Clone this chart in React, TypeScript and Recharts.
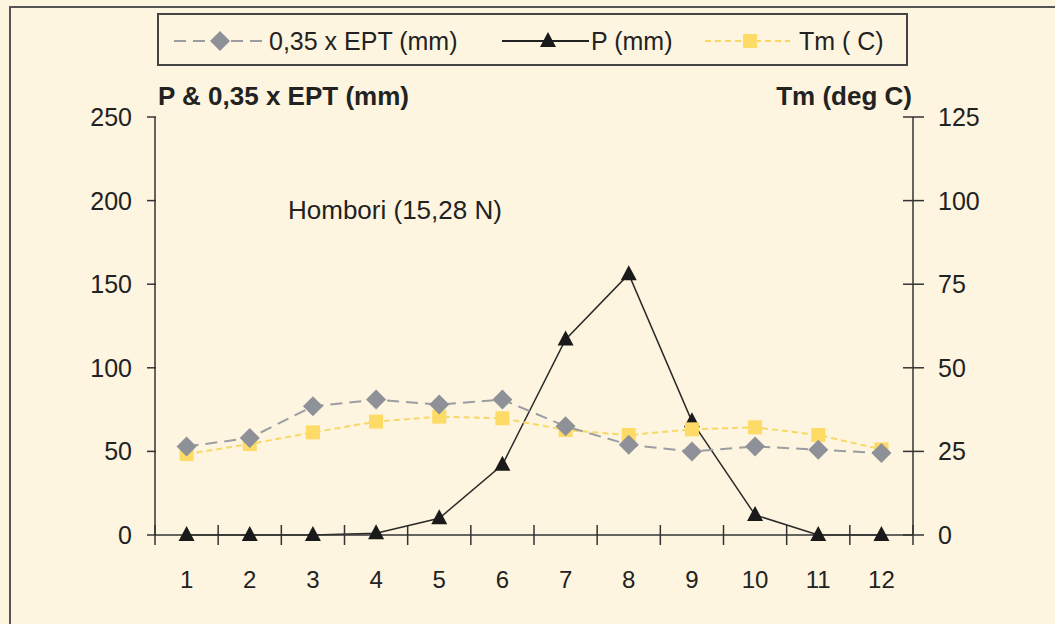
import React from "react";
import { LineChart, Line, XAxis, YAxis, Legend } from "recharts";

const months = [1, 2, 3, 4, 5, 6, 7, 8, 9, 10, 11, 12];
const eptValues = [53, 58, 77, 81, 78, 81, 65, 54, 50, 53, 51, 49];
const pValues = [0, 0, 0, 1, 10, 42, 117, 156, 68, 12, 0, 0];
const tmValues = [24.2, 27.2, 30.7, 33.9, 35.4, 34.9, 31.4, 29.9, 31.6, 32.2, 29.9, 25.6];

const leftTicks = [0, 50, 100, 150, 200, 250];
const rightTicks = [0, 25, 50, 75, 100, 125];
// month labels sit on the integers, the tick marks sit between months
const xTicks = [0.5, 1, 1.5, 2, 2.5, 3, 3.5, 4, 4.5, 5, 5.5, 6, 6.5, 7, 7.5, 8, 8.5, 9, 9.5, 10, 10.5, 11, 11.5, 12, 12.5];

const data = months.map((m, i) => ({
  month: m,
  ept: eptValues[i],
  p: pValues[i],
  tm: tmValues[i],
}));

const FONT = "'Liberation Sans', Arial, Helvetica, sans-serif";
const TEXT = "#222";
const AXIS = "#333";
const BG = "#fdf5df";
const GREY_LINE = "#9b9da2";
const GREY_MARK = "#8f9198";
const YELLOW_LINE = "#f8d865";
const YELLOW_MARK = "#fddb66";

const Diamond = ({ cx, cy }: any) =>
  cx == null || cy == null ? null : (
    <polygon points={`${cx},${cy - 10} ${cx + 10},${cy} ${cx},${cy + 10} ${cx - 10},${cy}`} fill={GREY_MARK} />
  );

const Triangle = ({ cx, cy }: any) =>
  cx == null || cy == null ? null : (
    <polygon points={`${cx},${cy - 9} ${cx + 8},${cy + 6} ${cx - 8},${cy + 6}`} fill="#1a1a1a" />
  );

const Square = ({ cx, cy }: any) =>
  cx == null || cy == null ? null : <rect x={cx - 7} y={cy - 7} width={14} height={14} fill={YELLOW_MARK} />;

const XTick = ({ x, y, payload }: any) => {
  const v = payload.value;
  if (!Number.isInteger(v)) {
    return <line x1={x} x2={x} y1={y - 10} y2={y + 10} stroke={AXIS} strokeWidth={1.5} />;
  }
  return (
    <text x={x} y={y + 53} textAnchor="middle" fontSize={24} fill={TEXT} fontFamily={FONT}>
      {v}
    </text>
  );
};

const LeftTick = ({ x, y, payload }: any) => (
  <g>
    <line x1={x - 8} x2={x + 1} y1={y} y2={y} stroke={AXIS} strokeWidth={1.5} />
    <text x={x - 23} y={y + 9} textAnchor="end" fontSize={25} fill={TEXT} fontFamily={FONT}>
      {payload.value}
    </text>
  </g>
);

const RightTick = ({ x, y, payload }: any) => (
  <g>
    <line x1={x - 10} x2={x + 11} y1={y} y2={y} stroke={AXIS} strokeWidth={1.5} />
    <text x={x + 25} y={y + 9} textAnchor="start" fontSize={25} fill={TEXT} fontFamily={FONT}>
      {payload.value}
    </text>
  </g>
);

const legendOrder = ["ept", "p", "tm"];
const legendSlots = [
  { x1: 15, x2: 105, mark: 61, text: 110 },
  { x1: 343, x2: 430, mark: 389, text: 432 },
  { x1: 546, x2: 631, mark: 591, text: 640 },
];

function LegendBox({ payload }: any) {
  const items = legendOrder.map((k) => (payload || []).find((p: any) => p.dataKey === k)).filter(Boolean);
  return (
    <div style={{ width: 751, height: 53, border: "2px solid #444", boxSizing: "border-box" }}>
      <svg width={747} height={49}>
        {items.map((item: any, i: number) => {
          const s = legendSlots[i];
          const cy = 26;
          const key = item.dataKey;
          const stroke = key === "ept" ? GREY_LINE : key === "p" ? "#222" : YELLOW_LINE;
          const dash = key === "ept" ? "12 7" : key === "tm" ? "6 4" : undefined;
          return (
            <g key={key}>
              <line x1={s.x1} x2={s.x2} y1={cy} y2={cy} stroke={stroke} strokeWidth={2} strokeDasharray={dash} />
              {key === "ept" && <Diamond cx={s.mark} cy={cy} />}
              {key === "p" && <Triangle cx={s.mark} cy={cy} />}
              {key === "tm" && <Square cx={s.mark} cy={cy} />}
              <text x={s.text} y={cy + 9} fontSize={25} fill={TEXT} fontFamily={FONT}>
                {item.value}
              </text>
            </g>
          );
        })}
      </svg>
    </div>
  );
}

export default function App() {
  return (
    <div style={{ position: "absolute", left: 0, top: 0, width: 1055, height: 624, background: BG, overflow: "hidden" }}>
      <div
        style={{
          position: "absolute",
          left: 9,
          top: 6,
          width: 1200,
          height: 800,
          borderLeft: "2px solid #555",
          borderTop: "2px solid #555",
        }}
      />
      <div style={{ position: "absolute", left: 0, top: 0 }}>
        <LineChart width={1055} height={624} data={data} margin={{ top: 117, right: 62, bottom: 19, left: 75 }}>
          <XAxis
            dataKey="month"
            type="number"
            domain={[0.5, 12.5]}
            ticks={xTicks}
            interval={0}
            tick={<XTick />}
            tickLine={false}
            tickSize={0}
            tickMargin={0}
            height={70}
            axisLine={{ stroke: AXIS, strokeWidth: 1.5 }}
          />
          <YAxis
            yAxisId="left"
            orientation="left"
            domain={[0, 250]}
            ticks={leftTicks}
            interval={0}
            width={80}
            tick={<LeftTick />}
            tickLine={false}
            tickSize={0}
            tickMargin={0}
            axisLine={{ stroke: AXIS, strokeWidth: 1.5 }}
          />
          <YAxis
            yAxisId="right"
            orientation="right"
            domain={[0, 125]}
            ticks={rightTicks}
            interval={0}
            width={80}
            tick={<RightTick />}
            tickLine={false}
            tickSize={0}
            tickMargin={0}
            axisLine={{ stroke: AXIS, strokeWidth: 1.5 }}
          />
          <Legend
            layout="horizontal"
            verticalAlign="middle"
            align="center"
            content={<LegendBox />}
            wrapperStyle={{ left: 157, top: 13, width: 751, height: 53 }}
          />
          <Line
            yAxisId="left"
            dataKey="p"
            name="P (mm)"
            stroke="#2a2a2a"
            strokeWidth={1.5}
            dot={<Triangle />}
            activeDot={false}
            isAnimationActive={false}
          />
          <Line
            yAxisId="right"
            dataKey="tm"
            name="Tm ( C)"
            stroke={YELLOW_LINE}
            strokeWidth={2}
            strokeDasharray="6 4"
            dot={<Square />}
            activeDot={false}
            isAnimationActive={false}
          />
          <Line
            yAxisId="left"
            dataKey="ept"
            name="0,35 x EPT (mm)"
            stroke={GREY_LINE}
            strokeWidth={2}
            strokeDasharray="12 7"
            dot={<Diamond />}
            activeDot={false}
            isAnimationActive={false}
          />
          <text x={158} y={105} fontSize={26} fontWeight="bold" fill={TEXT} fontFamily={FONT}>
            P &amp; 0,35 x EPT (mm)
          </text>
          <text x={912} y={105} textAnchor="end" fontSize={26} fontWeight="bold" fill={TEXT} fontFamily={FONT}>
            Tm (deg C)
          </text>
          <text x={288} y={219} fontSize={26} fill={TEXT} fontFamily={FONT}>
            Hombori (15,28 N)
          </text>
        </LineChart>
      </div>
    </div>
  );
}
